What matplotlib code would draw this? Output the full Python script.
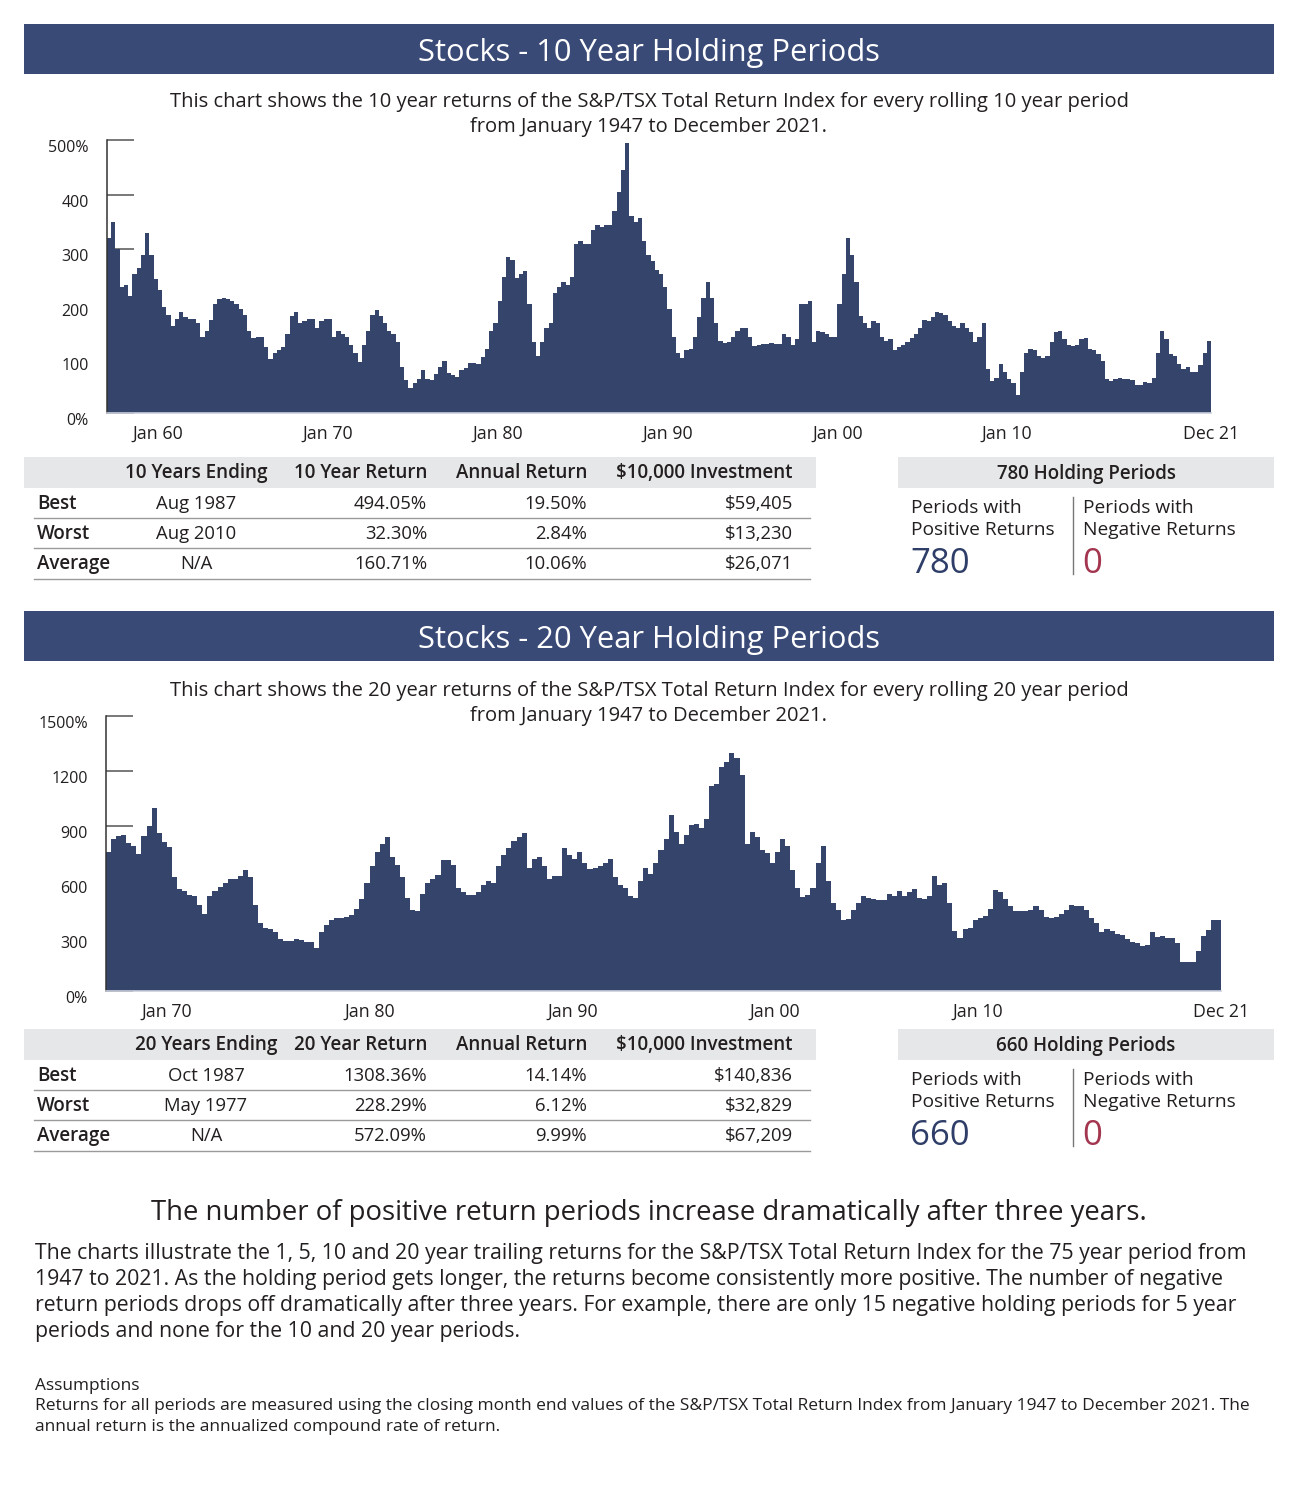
import numpy as np
import matplotlib.pyplot as plt
from matplotlib.patches import Rectangle

plt.rcParams['font.family'] = ['Open Sans', 'DejaVu Sans']

W, H = 1300, 1490
NAVY = '#34446a'
HEAD = '#3a4a77'
BAND = '#e6e7e8'
TXT = '#231f20'
RED = '#a3354f'

# 10 year rolling returns (%), quarterly, Q1 1957 .. Q4 2021
ret10 = [
    320, 350, 300, 230,  235, 215, 255, 265,  290, 330, 290, 245,  225, 195, 180, 160,
    172, 185, 175, 172,  172, 165, 140, 150,  170, 200, 208, 210,  208, 205, 200, 190,
    180, 150, 138, 140,  140, 120, 98, 110,   115, 120, 145, 178,  185, 165, 168, 172,
    172, 155, 168, 172,  172, 140, 150, 145,  140, 125, 110, 93,   125, 150, 180, 188,
    178, 165, 150, 145,  130, 85, 60, 45,     55, 62, 78, 62,      60, 72, 85, 95,
    74, 70, 66, 78,      82, 92, 92, 90,      102, 118, 150, 165,  205, 250, 285, 280,
    248, 255, 260, 200,  130, 105, 130, 155,  165, 220, 230, 240,  235, 250, 310, 315,
    310, 310, 335, 345,  340, 345, 345, 370,  405, 445, 494, 360,  350, 358, 315, 290,
    278, 262, 255, 230,  190, 140, 110, 100,  115, 118, 140, 175,  210, 240, 210, 165,
    132, 128, 130, 140,  150, 155, 155, 140,  122, 125, 126, 126,  128, 126, 126, 145,
    140, 125, 135, 200,  200, 205, 130, 150,  148, 145, 140, 140,  200, 255, 320, 290,
    240, 178, 165, 155,  168, 165, 140, 132,  135, 115, 120, 125,  130, 138, 145, 155,
    170, 168, 175, 185,  183, 180, 168, 160,  155, 165, 155, 148,  130, 140, 165, 80,
    58, 65, 90, 75,      62, 55, 33, 75,      110, 118, 115, 105,  100, 105, 130, 148,
    150, 135, 125, 122,  125, 135, 138, 118,  115, 108, 95, 62,    58, 63, 65, 63,
    63, 60, 52, 52,      56, 55, 65, 110,     150, 135, 108, 105,  90, 80, 85, 76,
    75, 88, 110, 132,
]

# 20 year rolling returns (%), quarterly, Q1 1967 .. Q4 2021
ret20 = [
    760, 830, 845, 850,  810, 790, 745, 845,  900, 1000, 860, 815,  785, 620, 555, 545,
    525, 520, 470, 420,  520, 545, 565, 590,  610, 610, 625, 660,   620, 470, 370, 345,
    340, 320, 285, 275,  275, 285, 280, 270,  270, 235, 320, 360,   390, 400, 400, 405,
    415, 450, 500, 590,  680, 760, 800, 840,  730, 690, 620, 510,   440, 435, 530, 590,
    610, 635, 715, 715,  690, 560, 540, 525,  525, 540, 580, 600,   590, 680, 740, 780,
    820, 840, 860, 670,  720, 730, 680, 610,  625, 630, 780, 740,   720, 760, 700, 665,
    670, 680, 700, 720,  620, 580, 560, 520,  510, 600, 670, 640,   700, 770, 830, 960,
    870, 800, 850, 905,  910, 890, 940, 1120, 1130, 1220, 1250, 1300, 1270, 1180, 800, 870,
    840, 770, 755, 700,  760, 830, 790, 660,  560, 515, 525, 560,   700, 790, 600, 480,
    440, 385, 395, 440,  480, 520, 505, 500,  495, 495, 530, 520,   545, 520, 540, 555,
    510, 500, 520, 630,  580, 590, 480, 330,  290, 340, 345, 385,   400, 410, 450, 550,
    540, 500, 465, 435,  435, 435, 440, 465,  440, 405, 400, 405,   420, 440, 470, 465,
    465, 440, 400, 370,  320, 340, 330, 310,  305, 285, 265, 260,   245, 250, 320, 295,
    300, 290, 290, 260,  160, 160, 160, 220,  300, 335, 390, 390,
]

# tick labels
yticks10 = [0, 100, 200, 300, 400, 500]
ylabels10 = ['0%', '100', '200', '300', '400', '500%']
xticks10 = [1960, 1970, 1980, 1990, 2000, 2010, 2022]
xlabels10 = ['Jan 60', 'Jan 70', 'Jan 80', 'Jan 90', 'Jan 00', 'Jan 10', 'Dec 21']
yticks20 = [0, 300, 600, 900, 1200, 1500]
ylabels20 = ['0%', '300', '600', '900', '1200', '1500%']
xticks20 = [1970, 1980, 1990, 2000, 2010, 2022]
xlabels20 = ['Jan 70', 'Jan 80', 'Jan 90', 'Jan 00', 'Jan 10', 'Dec 21']

# tables
row_names = ['Best', 'Worst', 'Average']
cols10 = ['10 Years Ending', '10 Year Return', 'Annual Return', '$10,000 Investment']
tab10 = [
    ['Aug 1987', '494.05%', '19.50%', '$59,405'],
    ['Aug 2010', '32.30%', '2.84%', '$13,230'],
    ['N/A', '160.71%', '10.06%', '$26,071'],
]
cols20 = ['20 Years Ending', '20 Year Return', 'Annual Return', '$10,000 Investment']
tab20 = [
    ['Oct 1987', '1308.36%', '14.14%', '$140,836'],
    ['May 1977', '228.29%', '6.12%', '$32,829'],
    ['N/A', '572.09%', '9.99%', '$67,209'],
]
periods = [780, 660]
positives = [780, 660]
negatives = [0, 0]

fig = plt.figure(figsize=(13, 14.9), dpi=100)
bg = fig.add_axes([0, 0, 1, 1])
bg.set_xlim(0, W)
bg.set_ylim(H, 0)
bg.axis('off')


def header(y0, y1, title):
    bg.add_patch(Rectangle((24, y0), 1250, y1 - y0, color=HEAD, lw=0))
    bg.text(649, (y0 + y1) / 2 + 4, title, color='white', fontsize=22.2,
            ha='center', va='center')


def subtitle(y, n):
    bg.text(649, y, f'This chart shows the {n} year returns of the S&P/TSX Total Return '
            f'Index for every rolling {n} year period', fontsize=14.5, color=TXT,
            ha='center', va='center')
    bg.text(649, y + 25, 'from January 1947 to December 2021.', fontsize=14.5,
            color=TXT, ha='center', va='center')


def chart(left, right, top, bottom, start, vals, ymax, yt, yl, xt, xl):
    ax = fig.add_axes([left / W, 1 - bottom / H, (right - left) / W, (bottom - top) / H])
    edges = start + np.arange(len(vals) + 1) * 0.25
    ax.stairs(vals, edges, fill=True, color=NAVY, lw=0)
    ax.set_xlim(start, 2022)
    ax.set_ylim(0, ymax)
    ax.set_axisbelow(True)
    ax.set_yticks(yt)
    ax.set_yticklabels(yl)
    ax.set_xticks(xt)
    ax.set_xticklabels(xl)
    ax.tick_params(axis='y', direction='in', length=19.5, width=1.3, color='#6d6d6d',
                   pad=13, labelsize=11.5, labelcolor=TXT)
    ax.tick_params(axis='x', length=0, pad=8.5, labelsize=12.8, labelcolor=TXT)
    for lab in ax.get_yticklabels():
        lab.set_va('top')
    for s in ['top', 'right']:
        ax.spines[s].set_visible(False)
    ax.spines['left'].set_color('#333333')
    ax.spines['left'].set_linewidth(1.1)
    ax.spines['bottom'].set_color('#c9cfdc')
    ax.spines['bottom'].set_linewidth(1.2)
    ax.patch.set_alpha(0)
    return ax


def table(ytop, cols, rows, c1):
    bg.add_patch(Rectangle((24, ytop), 792, 31, color=BAND, lw=0))
    hy = ytop + 16
    bg.text(c1, hy, cols[0], fontsize=13.6, fontweight='semibold', color=TXT, ha='center', va='center')
    for xr, c in zip([427, 587, 793], cols[1:]):
        bg.text(xr, hy, c, fontsize=13.5, fontweight='semibold', color=TXT, ha='right', va='center')
    for i, (name, row) in enumerate(zip(row_names, rows)):
        y = ytop + 47 + 30 * i
        bg.text(37, y, name, fontsize=13.5, fontweight='semibold', color=TXT, ha='left', va='center')
        bg.text(c1, y, row[0], fontsize=13.3, color=TXT, ha='center', va='center')
        for xr, v in zip([427, 587, 793], row[1:]):
            bg.text(xr, y, v, fontsize=13.3, color=TXT, ha='right', va='center')
        ly = ytop + 61 + 30 * i + (1 if i == 2 else 0)
        bg.plot([34, 810], [ly, ly], color='#9a9a9a', lw=1)


def stats(ytop, total, pos, neg):
    bg.add_patch(Rectangle((898, ytop), 376, 31, color=BAND, lw=0))
    bg.text(1086, ytop + 17, f'{total} Holding Periods', fontsize=13.5, fontweight='semibold',
            color=TXT, ha='center', va='center')
    bg.text(911, ytop + 51, 'Periods with', fontsize=13.8, color=TXT, ha='left', va='center')
    bg.text(911, ytop + 73, 'Positive Returns', fontsize=13.8, color=TXT, ha='left', va='center')
    bg.text(1083, ytop + 51, 'Periods with', fontsize=13.8, color=TXT, ha='left', va='center')
    bg.text(1083, ytop + 73, 'Negative Returns', fontsize=13.8, color=TXT, ha='left', va='center')
    bg.text(910, ytop + 107, f'{pos}', fontsize=25, color='#2f3e68', ha='left', va='center')
    bg.text(1082, ytop + 107, f'{neg}', fontsize=25, color=RED, ha='left', va='center')
    bg.plot([1073, 1073], [ytop + 40, ytop + 117], color='#777777', lw=1)


# 10 year section
header(24, 74, 'Stocks - 10 Year Holding Periods')
subtitle(102, 10)
chart(107, 1211, 140, 413, 1957, ret10, 500, yticks10, ylabels10, xticks10, xlabels10)
table(457, cols10, tab10, 196)
stats(457, periods[0], positives[0], negatives[0])

# 20 year section
header(611, 661, 'Stocks - 20 Year Holding Periods')
subtitle(691, 20)
chart(106, 1221, 716, 991, 1967, ret20, 1500, yticks20, ylabels20, xticks20, xlabels20)
table(1029, cols20, tab20, 206)
stats(1029, periods[1], positives[1], negatives[1])

# closing text
bg.text(649, 1213, 'The number of positive return periods increase dramatically after three years.',
        fontsize=19.8, color=TXT, ha='center', va='center')
body = [
    'The charts illustrate the 1, 5, 10 and 20 year trailing returns for the S&P/TSX Total Return Index for the 75 year period from',
    '1947 to 2021. As the holding period gets longer, the returns become consistently more positive. The number of negative',
    'return periods drops off dramatically after three years. For example, there are only 15 negative holding periods for 5 year',
    'periods and none for the 10 and 20 year periods.',
]
for i, line in enumerate(body):
    bg.text(35, 1254 + 26 * i, line, fontsize=15.3, color=TXT, ha='left', va='center')

bg.text(35, 1386, 'Assumptions', fontsize=12.4, color=TXT, ha='left', va='center')
foot = [
    'Returns for all periods are measured using the closing month end values of the S&P/TSX Total Return Index from January 1947 to December 2021. The',
    'annual return is the annualized compound rate of return.',
]
for i, line in enumerate(foot):
    bg.text(35, 1406 + 21 * i, line, fontsize=12.5, color=TXT, ha='left', va='center')

fig.savefig('out.png', dpi=100)
